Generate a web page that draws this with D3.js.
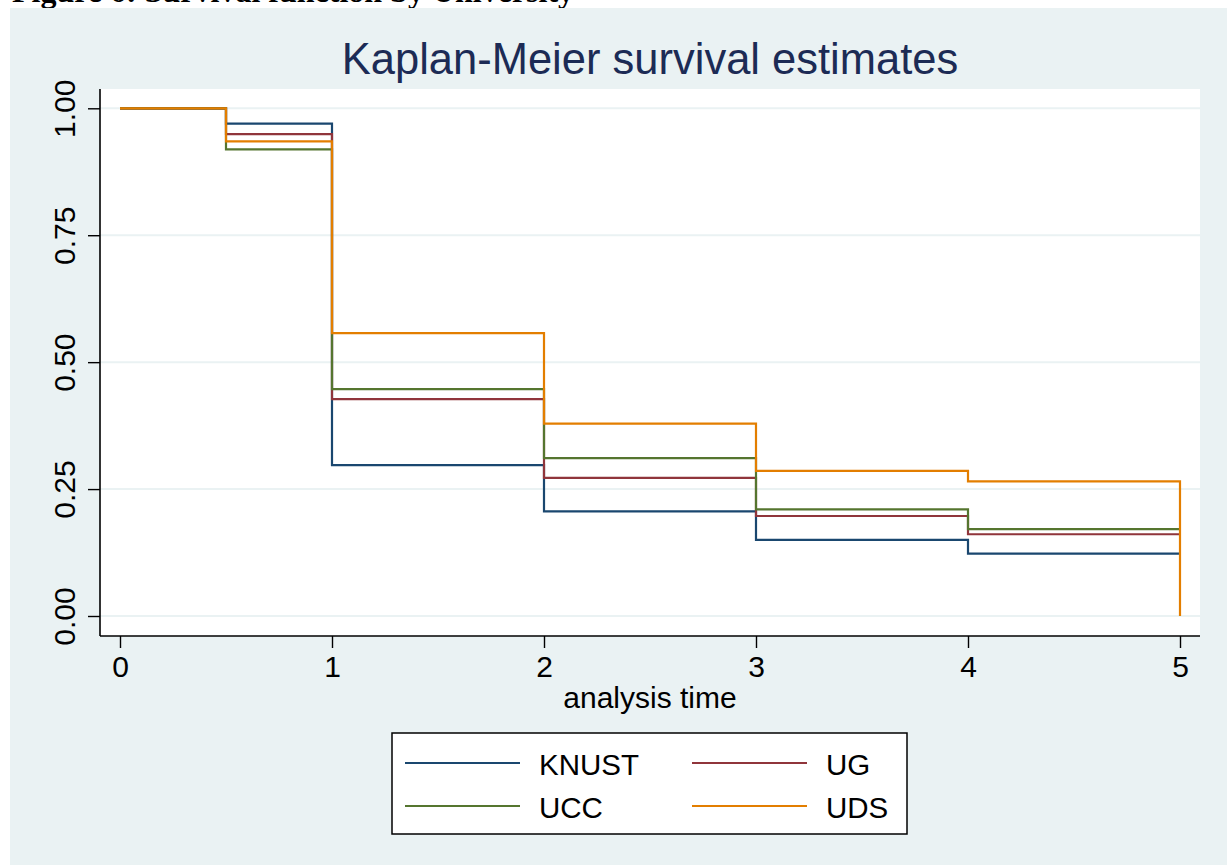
<!DOCTYPE html>
<html>
<head>
<meta charset="utf-8">
<script src="https://cdn.jsdelivr.net/npm/d3@7"></script>
<style>
  html, body { margin: 0; padding: 0; background: #ffffff; }
  svg { display: block; }
  .sans { font-family: "Liberation Sans", Arial, Helvetica, sans-serif; }
  .caption { font-family: "Liberation Serif", "Times New Roman", serif; font-weight: bold; }
</style>
</head>
<body>
<svg id="chart" width="1227" height="865"></svg>
<script>
// Kaplan-Meier step estimates per university
const times  = [0, 0.5, 1, 2, 3, 4, 5];
const knust  = [1.000, 0.970, 0.297, 0.206, 0.150, 0.123, 0.123];
const ug     = [1.000, 0.949, 0.427, 0.272, 0.197, 0.161, 0.161];
const ucc    = [1.000, 0.919, 0.447, 0.311, 0.210, 0.171, 0.171];
const uds    = [1.000, 0.935, 0.557, 0.379, 0.286, 0.265, 0.000];

const groupNames = ["KNUST", "UG", "UCC", "UDS"];
const groupValues = [knust, ug, ucc, uds];
const groupColors = ["#1a476f", "#90353b", "#55752f", "#e37e00"];

const xTicks = [0, 1, 2, 3, 4, 5];
const yTicks = [0, 0.25, 0.5, 0.75, 1];

const titleText = "Kaplan-Meier survival estimates";
const xTitle = "analysis time";
const captionText = "Figure 6: Survival function by University";

const svg = d3.select("#chart");

// caption from the surrounding document, mostly hidden under the graph frame
svg.append("text")
  .attr("class", "caption")
  .attr("x", 12).attr("y", 2)
  .attr("font-size", 32)
  .attr("fill", "#000")
  .text(captionText);

// graph region
svg.append("rect")
  .attr("x", 10).attr("y", 8)
  .attr("width", 1227 - 10).attr("height", 865 - 8)
  .attr("fill", "#eaf2f3");

const plot = { left: 100, right: 1200, top: 89, bottom: 636 };

const x = d3.scaleLinear().domain([0, 5]).range([120, 1180]);
const y = d3.scaleLinear().domain([0, 1]).range([616, 108.3]);

// plot region
svg.append("rect")
  .attr("x", plot.left).attr("y", plot.top)
  .attr("width", plot.right - plot.left)
  .attr("height", plot.bottom - plot.top)
  .attr("fill", "#ffffff");

// horizontal gridlines
svg.append("g")
  .selectAll("line")
  .data(yTicks)
  .join("line")
  .attr("x1", plot.left).attr("x2", plot.right)
  .attr("y1", d => y(d)).attr("y2", d => y(d))
  .attr("stroke", "#eaf2f3")
  .attr("stroke-width", 2);

// survival curves
const line = d3.line()
  .x((d, i) => x(times[i]))
  .y(d => y(d))
  .curve(d3.curveStepAfter);

svg.append("g")
  .selectAll("path")
  .data(groupValues)
  .join("path")
  .attr("d", d => line(d))
  .attr("fill", "none")
  .attr("stroke", (d, i) => groupColors[i])
  .attr("stroke-width", 2.2)
  .attr("stroke-linejoin", "miter");

// y axis
const yAxis = d3.axisLeft(y)
  .tickValues(yTicks)
  .tickFormat(d3.format(".2f"))
  .tickSizeInner(12)
  .tickSizeOuter(0);

const gy = svg.append("g")
  .attr("transform", `translate(${plot.left},0)`)
  .call(yAxis);
gy.select(".domain").remove();
gy.selectAll(".tick line").attr("stroke", "#000").attr("stroke-width", 1.4);
gy.selectAll(".tick text")
  .attr("class", "sans")
  .attr("font-size", 30)
  .attr("fill", "#000")
  .attr("text-anchor", "middle")
  .attr("dy", null)
  .attr("x", null)
  .attr("transform", "translate(-25,0) rotate(-90)")
  .attr("y", 0);

svg.append("line")
  .attr("x1", plot.left).attr("x2", plot.left)
  .attr("y1", plot.top).attr("y2", plot.bottom)
  .attr("stroke", "#000").attr("stroke-width", 1.6);

// x axis
const xAxis = d3.axisBottom(x)
  .tickValues(xTicks)
  .tickFormat(d3.format("d"))
  .tickSizeInner(12)
  .tickSizeOuter(0);

const gx = svg.append("g")
  .attr("transform", `translate(0,${plot.bottom})`)
  .call(xAxis);
gx.select(".domain").remove();
gx.selectAll(".tick line").attr("stroke", "#000").attr("stroke-width", 1.4);
gx.selectAll(".tick text")
  .attr("class", "sans")
  .attr("font-size", 30)
  .attr("fill", "#000")
  .attr("dy", null)
  .attr("y", 41);

svg.append("line")
  .attr("x1", plot.left).attr("x2", plot.right)
  .attr("y1", plot.bottom).attr("y2", plot.bottom)
  .attr("stroke", "#000").attr("stroke-width", 1.6);

// titles
svg.append("text")
  .attr("class", "sans")
  .attr("x", 650).attr("y", 74)
  .attr("text-anchor", "middle")
  .attr("font-size", 43.5)
  .attr("fill", "#1c2b55")
  .text(titleText);

svg.append("text")
  .attr("class", "sans")
  .attr("x", 650).attr("y", 708)
  .attr("text-anchor", "middle")
  .attr("font-size", 30)
  .attr("fill", "#000")
  .text(xTitle);

// legend
const legend = svg.append("g");
legend.append("rect")
  .attr("x", 392).attr("y", 733)
  .attr("width", 515).attr("height", 101)
  .attr("fill", "#ffffff")
  .attr("stroke", "#000")
  .attr("stroke-width", 1.5);

const legendCols = [405, 692];
const legendRows = [763, 806];
const items = legend.selectAll("g.item")
  .data(groupNames)
  .join("g")
  .attr("class", "item")
  .attr("transform", (d, i) => `translate(${legendCols[i % 2]},${legendRows[Math.floor(i / 2)]})`);

items.append("line")
  .attr("x1", 0).attr("x2", 115)
  .attr("y1", 0).attr("y2", 0)
  .attr("stroke", (d, i) => groupColors[i])
  .attr("stroke-width", 2);

items.append("text")
  .attr("class", "sans")
  .attr("x", 134).attr("y", 12)
  .attr("font-size", 29.5)
  .attr("fill", "#000")
  .text(d => d);
</script>
</body>
</html>
